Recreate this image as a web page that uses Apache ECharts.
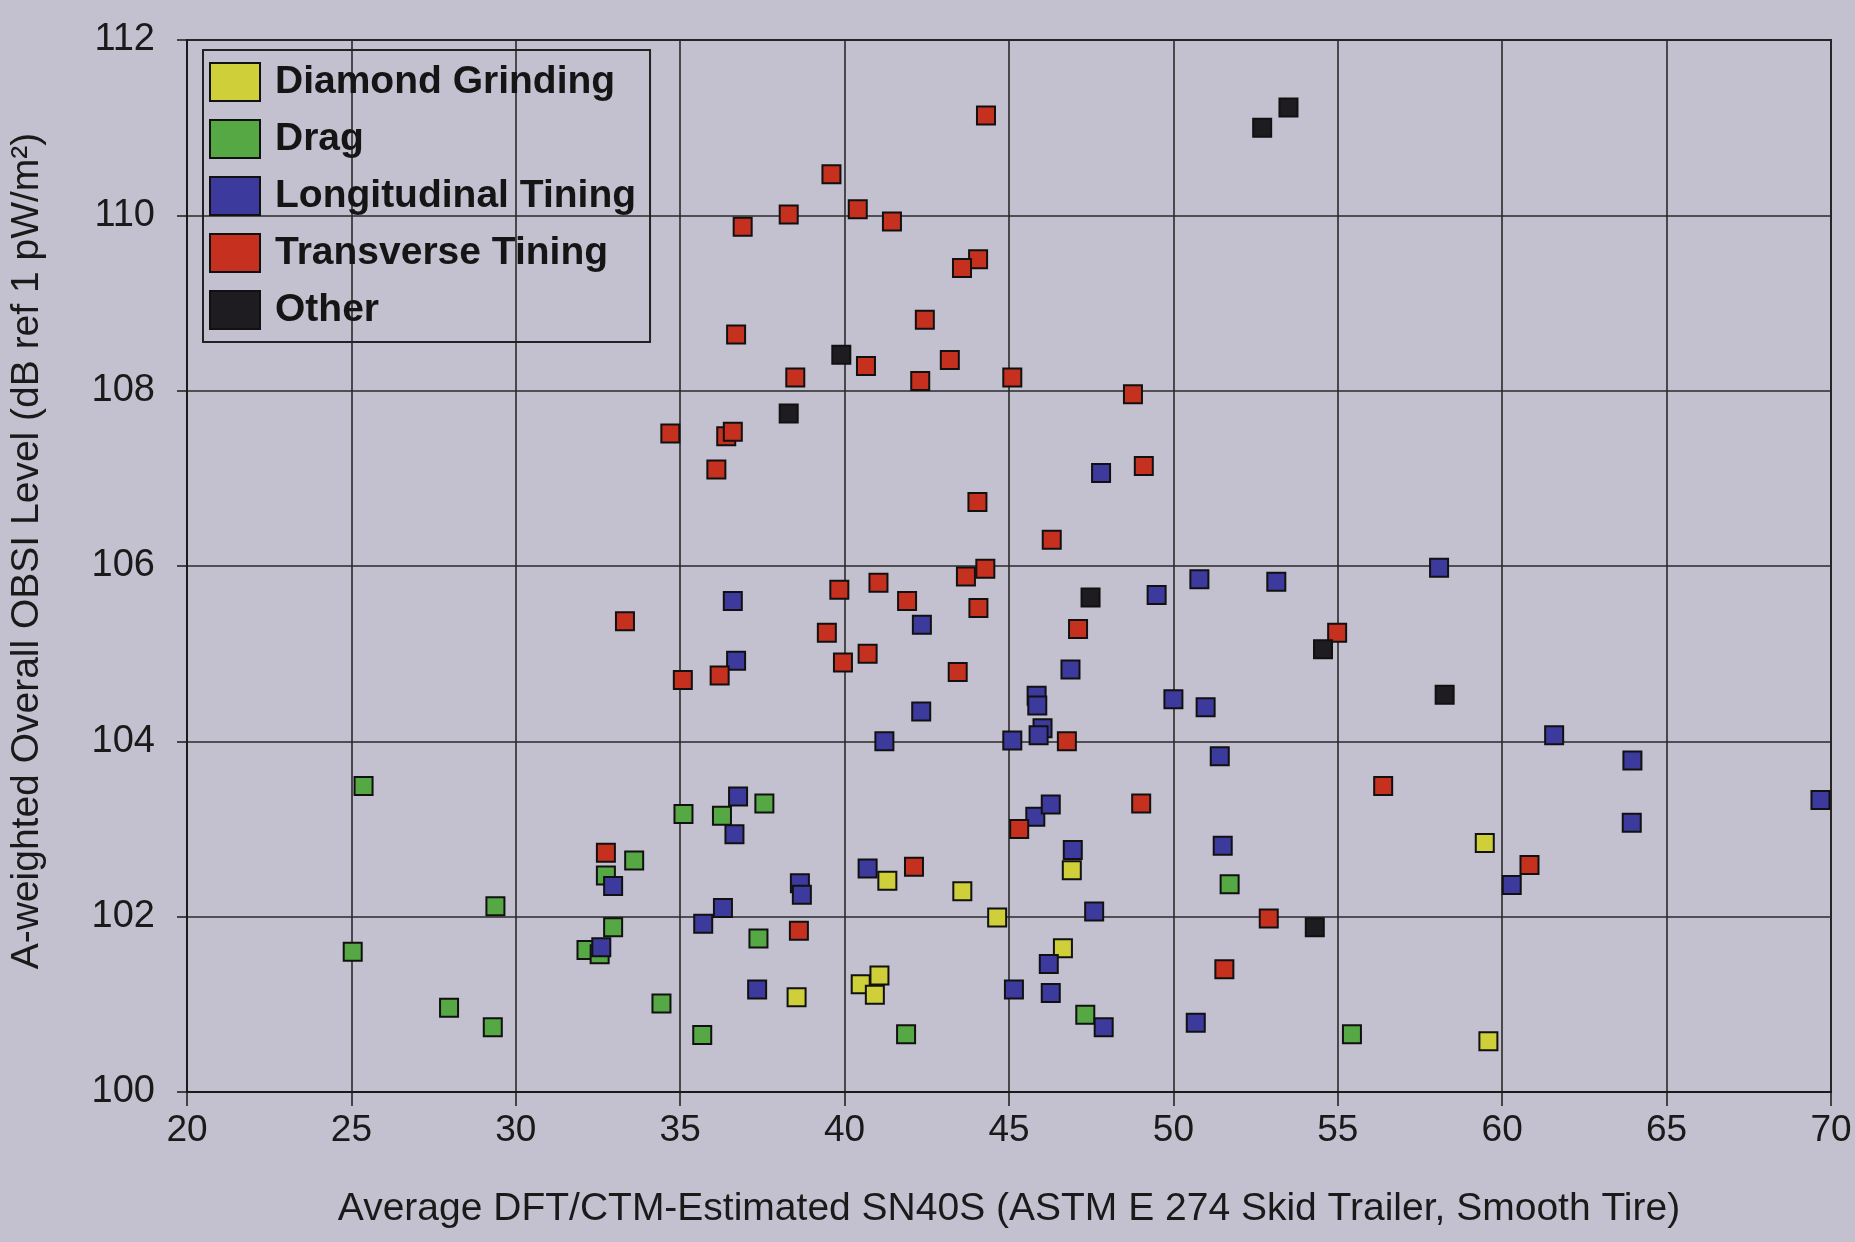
<!DOCTYPE html>
<html>
<head>
<meta charset="utf-8">
<script src="https://cdn.jsdelivr.net/npm/echarts@6/dist/echarts.min.js"></script>
<style>
html,body{margin:0;padding:0;background:#c3c0cf;}
#c{width:1855px;height:1242px;}
</style>
</head>
<body>
<div id="c"></div>
<script>
const xTicks = [20,25,30,35,40,45,50,55,60,65,70];
const yTicks = [100,102,104,106,108,110,112];

const diamondGrinding = [
  [41.3,102.41],[43.58,102.29],[44.64,101.99],[46.91,102.53],[38.54,101.08],
  [40.49,101.23],[41.06,101.33],[40.92,101.11],[46.64,101.64],[59.47,102.84],[59.58,100.58]
];
const drag = [
  [25.37,103.49],[25.04,101.6],[29.38,102.12],[27.97,100.96],[29.3,100.74],
  [32.15,101.62],[32.55,101.57],[32.74,102.47],[33.6,102.64],[32.96,101.88],
  [34.43,101.01],[35.67,100.65],[35.1,103.17],[36.27,103.15],[37.56,103.29],
  [37.38,101.75],[41.87,100.66],[47.32,100.88],[51.71,102.37],[55.43,100.66]
];
const longitudinalTining = [
  [32.96,102.35],[32.6,101.65],[35.7,101.92],[36.3,102.1],[36.6,105.6],
  [36.7,104.92],[36.76,103.37],[36.65,102.94],[42.35,105.33],[42.33,104.34],
  [41.21,104.0],[45.1,104.01],[45.84,104.52],[45.86,104.41],[46.02,104.15],
  [45.9,104.07],[46.87,104.82],[49.49,105.67],[50.79,105.85],[50.0,104.48],
  [50.98,104.39],[51.41,103.83],[40.7,102.55],[38.64,102.38],[38.7,102.25],
  [47.59,102.06],[45.8,103.14],[46.27,103.28],[46.94,102.76],[51.5,102.81],
  [37.34,101.17],[46.21,101.46],[45.15,101.17],[46.27,101.13],[47.88,100.74],
  [50.68,100.79],[47.8,107.06],[53.13,105.82],[58.08,105.98],[61.58,104.07],
  [63.96,103.78],[69.68,103.33],[63.94,103.07],[60.29,102.36]
];
const transverseTining = [
  [44.3,111.14],[39.6,110.47],[38.3,110.01],[36.9,109.87],[40.4,110.07],
  [41.44,109.93],[44.06,109.5],[43.57,109.4],[42.44,108.81],[36.7,108.64],
  [40.65,108.28],[38.5,108.15],[43.2,108.35],[42.3,108.11],[45.1,108.15],
  [48.77,107.96],[34.7,107.51],[36.4,107.48],[36.6,107.53],[36.1,107.1],
  [49.1,107.14],[44.04,106.73],[46.3,106.3],[44.28,105.97],[43.69,105.88],
  [39.84,105.73],[41.03,105.81],[41.9,105.6],[44.07,105.52],[39.46,105.24],
  [33.32,105.37],[47.1,105.28],[39.95,104.9],[40.7,105.0],[43.44,104.79],
  [35.08,104.7],[36.2,104.75],[46.76,104.0],[45.31,103.0],[49.02,103.29],
  [32.74,102.73],[42.11,102.57],[38.61,101.84],[52.9,101.98],[51.55,101.4],
  [54.98,105.24],[56.38,103.49],[60.83,102.59]
];
const other = [
  [52.7,111.0],[53.5,111.23],[39.9,108.41],[38.3,107.74],[47.48,105.64],
  [54.55,105.05],[58.25,104.53],[54.3,101.88]
];

const seriesNames = ['Diamond Grinding','Drag','Longitudinal Tining','Transverse Tining','Other'];
const seriesData = [diamondGrinding, drag, longitudinalTining, transverseTining, other];
const seriesColors = ['#cfcf3a','#56a844','#3d3a9e','#c6311f','#1e1c20'];

const chart = echarts.init(document.getElementById('c'));
const font = '"Liberation Sans", Arial, sans-serif';
chart.setOption({
  backgroundColor: '#c3c0cf',
  animation: false,
  grid: {left: 187, right: 24, top: 40, bottom: 150, show: true, borderColor: '#1a1a1a', borderWidth: 2},
  legend: {
    orient: 'vertical', left: 203, top: 50,
    data: seriesNames,
    itemWidth: 50, itemHeight: 38, itemGap: 17,
    padding: [12, 14, 12, 6],
    borderColor: '#222', borderWidth: 2,
    textStyle: {fontFamily: font, fontSize: 39, fontWeight: 'bold', color: '#151515', padding: [0, 0, 0, 10]},
    icon: 'rect'
  },
  xAxis: {
    type: 'value', min: 20, max: 70, interval: 5,
    name: 'Average DFT/CTM-Estimated SN40S (ASTM E 274 Skid Trailer, Smooth Tire)',
    nameLocation: 'middle', nameGap: 98,
    nameTextStyle: {fontFamily: font, fontSize: 39, color: '#1a1a1a'},
    axisLine: {lineStyle: {color: '#1a1a1a', width: 2}},
    axisTick: {show: true, length: 14, lineStyle: {color: '#1a1a1a', width: 1.5}},
    axisLabel: {fontFamily: font, fontSize: 37, color: '#1a1a1a', margin: 20,
      formatter: v => xTicks.includes(v) ? String(v) : ''},
    splitLine: {show: true, lineStyle: {color: '#2a2a2a', width: 1.6}}
  },
  yAxis: {
    type: 'value', min: 100, max: 112, interval: 2,
    name: 'A-weighted Overall OBSI Level (dB ref 1 pW/m²)',
    nameLocation: 'middle', nameGap: 140, nameRotate: 90,
    nameTextStyle: {fontFamily: font, fontSize: 39, color: '#1a1a1a', padding: [0, 0, 0, 30]},
    axisLine: {show: true, lineStyle: {color: '#1a1a1a', width: 2}},
    axisTick: {show: true, length: 10, lineStyle: {color: '#1a1a1a', width: 1.5}},
    axisLabel: {fontFamily: font, fontSize: 38, color: '#1a1a1a', margin: 32,
      formatter: v => yTicks.includes(v) ? String(v) : ''},
    splitLine: {show: true, lineStyle: {color: '#2a2a2a', width: 1.6}}
  },
  series: seriesNames.map((n, i) => ({
    name: n, type: 'scatter', symbol: 'rect', symbolSize: 18,
    data: seriesData[i],
    itemStyle: {color: seriesColors[i], borderColor: '#111', borderWidth: 2, opacity: 1}
  }))
});
</script>
</body>
</html>
